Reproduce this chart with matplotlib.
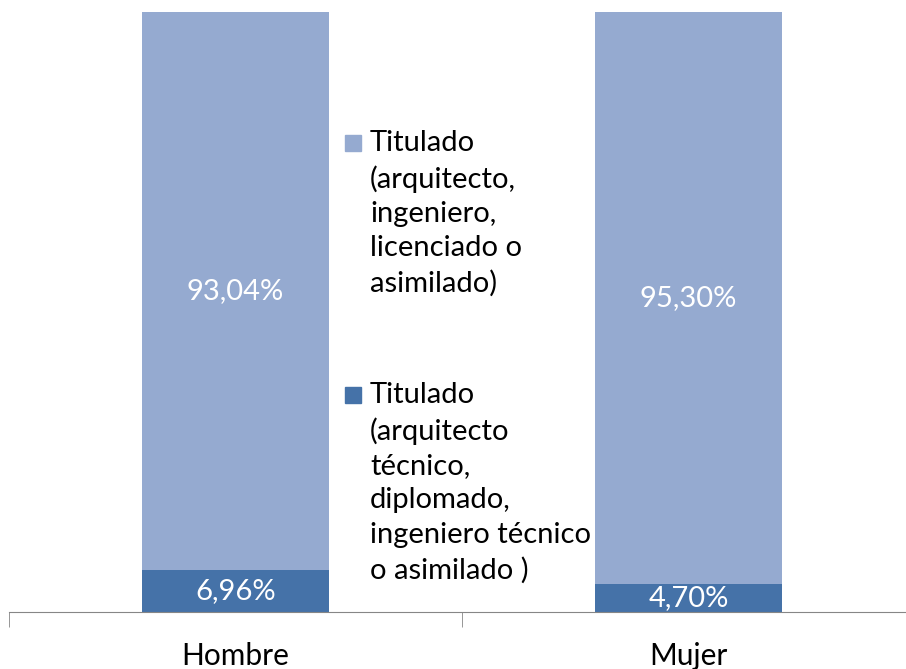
import matplotlib.pyplot as plt
from matplotlib.patches import Rectangle

# Data
categorias = ['Hombre', 'Mujer']
tecnico = [6.96, 4.70]
superior = [93.04, 95.30]
etiquetas = ['Titulado\n(arquitecto,\ningeniero,\nlicenciado o\nasimilado)',
             'Titulado\n(arquitecto\ntécnico,\ndiplomado,\ningeniero técnico\no asimilado )']

c_claro = '#95AAD0'
c_oscuro = '#4572A8'

plt.rcParams['font.family'] = ['Lato', 'DejaVu Sans']

fig = plt.figure(figsize=(9.06, 6.69), dpi=100)
ax = fig.add_axes([9 / 906, 1 - 611.7 / 669, 906 / 906, (611.7 - 12) / 669])

x = range(len(categorias))
ax.bar(x, tecnico, width=0.415, color=c_oscuro)
ax.bar(x, superior, width=0.415, bottom=tecnico, color=c_claro)

for i in x:
    ax.text(i, tecnico[i] / 2, f'{tecnico[i]:.2f}%'.replace('.', ','),
            ha='center', va='center', color='white', fontsize=21)
    ax.text(i, tecnico[i] + superior[i] / 2, f'{superior[i]:.2f}%'.replace('.', ','),
            ha='center', va='center', color='white', fontsize=21)

ax.set_xlim(-0.5, 1.5)
ax.set_ylim(0, 100)
for s in ['top', 'right', 'left']:
    ax.spines[s].set_visible(False)
ax.spines['bottom'].set_color('#868686')
ax.set_yticks([])
ax.set_xticks(list(x))
ax.set_xticklabels(categorias, fontsize=21.5)
ax.tick_params(axis='x', which='major', length=0, pad=22)
ax.set_xticks([-0.5, 0.5, 1.5], minor=True)
ax.tick_params(axis='x', which='minor', length=11, color='#868686')

# Leyenda manual
for y_top, col, lab in [(135, c_claro, etiquetas[0]), (387, c_oscuro, etiquetas[1])]:
    fig.patches.append(Rectangle((345 / 906, 1 - (y_top + 16) / 669), 16 / 906, 16 / 669,
                                 transform=fig.transFigure, color=col))
    fig.text(370 / 906, 1 - (y_top - 5) / 669, lab, ha='left', va='top',
             fontsize=21, linespacing=1.4)

fig.savefig('out.png', dpi=100)
